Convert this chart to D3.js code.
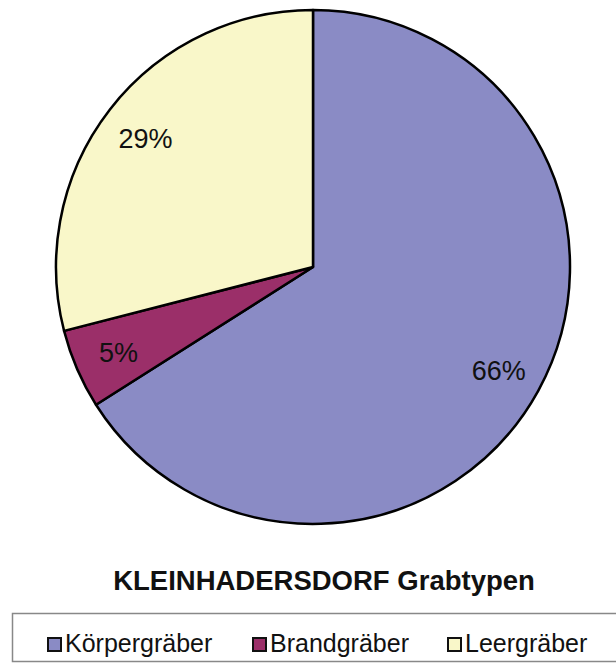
<!DOCTYPE html>
<html>
<head>
<meta charset="utf-8">
<script src="https://cdn.jsdelivr.net/npm/d3@7"></script>
<style>
  body { margin: 0; background: #fff; }
  svg { display: block; font-family: "Liberation Sans", Arial, sans-serif; }
</style>
</head>
<body>
<svg id="chart" width="616" height="670"></svg>
<script>
"use strict";

// chart data
const categories = ["Körpergräber", "Brandgräber", "Leergräber"];
const shares = [66, 5, 29];
const sliceColors = ["#8a8bc5", "#9b2f69", "#f9f7c9"];
const chartTitle = "KLEINHADERSDORF Grabtypen";

const svg = d3.select("#chart");

// pie geometry
const cx = 313, cy = 267, radius = 257;

const pie = d3.pie()
    .sort(null)
    .value(d => d.value);

const arc = d3.arc()
    .innerRadius(0)
    .outerRadius(radius);

// percent labels sit well out toward the rim
const labelArc = d3.arc()
    .innerRadius(212)
    .outerRadius(212);

const slices = pie(categories.map((c, i) => ({ name: c, value: shares[i], color: sliceColors[i] })));

const g = svg.append("g")
    .attr("transform", `translate(${cx},${cy})`);

g.selectAll("path")
    .data(slices)
    .enter()
    .append("path")
    .attr("d", arc)
    .attr("fill", d => d.data.color)
    .attr("stroke", "#000")
    .attr("stroke-width", 2.5)
    .attr("stroke-linejoin", "round");

g.selectAll("text.pct")
    .data(slices)
    .enter()
    .append("text")
    .attr("class", "pct")
    .attr("transform", d => `translate(${labelArc.centroid(d)})`)
    .attr("text-anchor", "middle")
    .attr("dy", "0.4em")
    .attr("font-size", 27)
    .attr("fill", "#111")
    .text(d => d.data.value + "%");

// title
svg.append("text")
    .attr("x", 324)
    .attr("y", 590)
    .attr("text-anchor", "middle")
    .attr("font-size", 27.5)
    .attr("font-weight", "bold")
    .attr("fill", "#111")
    .text(chartTitle);

// legend
svg.append("rect")
    .attr("x", 12.5)
    .attr("y", 613.5)
    .attr("width", 620)
    .attr("height", 48)
    .attr("fill", "#fff")
    .attr("stroke", "#888")
    .attr("stroke-width", 1.5);

const legendX = [48, 253, 448];
const legend = svg.selectAll("g.legend")
    .data(slices)
    .enter()
    .append("g")
    .attr("class", "legend")
    .attr("transform", (d, i) => `translate(${legendX[i]},652)`);

legend.append("rect")
    .attr("x", 0)
    .attr("y", -14)
    .attr("width", 13)
    .attr("height", 13)
    .attr("fill", d => d.data.color)
    .attr("stroke", "#111")
    .attr("stroke-width", 2);

legend.append("text")
    .attr("x", 17)
    .attr("y", 0)
    .attr("font-size", 25)
    .attr("fill", "#111")
    .text(d => d.data.name);
</script>
</body>
</html>
